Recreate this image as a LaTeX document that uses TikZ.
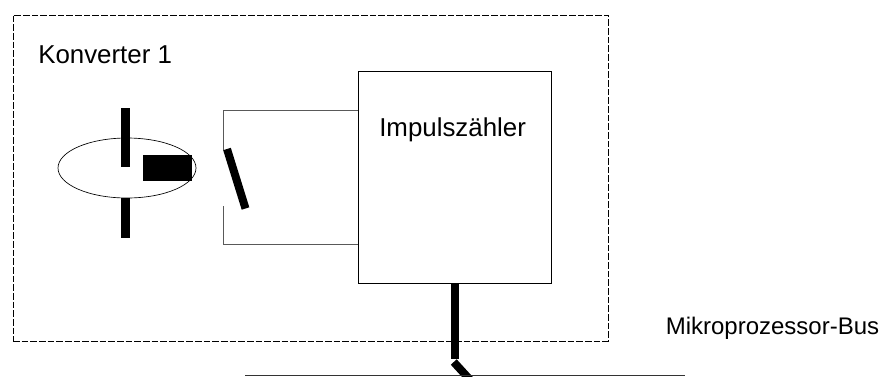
\documentclass[tikz,border=0pt]{standalone}
\usepackage{fontspec}
\setmainfont{Liberation Sans}
\usetikzlibrary{shapes.geometric, calc}
\tikzset{
    bar/.style={line width=6.75pt},
    wire/.style={draw=black!65, line width=0.6pt},
    lbl/.style={anchor=base west, font=\fontsize{19.4}{22}\selectfont, inner sep=0pt}
}
\begin{document}
\begin{tikzpicture}[x=0.75pt, y=-0.75pt]
    \useasboundingbox (0,0) rectangle (888,376);
    \fill [white] (0,0) rectangle (888,376);

    % Converter frame
    \node [draw, dash pattern=on 5pt off 1.5pt, line width=0.6pt, minimum width=446.25pt, minimum height=244.5pt, inner sep=0pt, anchor=north west] (frame) at (12.5,14.5) {};
    \node [lbl] (title) at (38,63.5) {Konverter 1};

    % Counter
    \node [draw, fill=white, line width=1.1pt, minimum width=144.75pt, minimum height=159pt, inner sep=0pt, anchor=north west] (box) at (358,71) {};
    \node [lbl] (count) at (379,136.5) {Impulszähler};

    % Relay coil
    \node [draw, ellipse, line width=0.5pt, minimum width=103.5pt, minimum height=45pt, inner sep=0pt] (coil) at (127,168) {};
    \draw [bar] (125.5,108) coordinate (up_a) -- (125.5,167) coordinate (up_b);
    \draw [bar] (125.5,198) coordinate (lo_a) -- (125.5,238) coordinate (lo_b);
    \node [fill=black, minimum width=36.75pt, minimum height=19.5pt, inner sep=0pt, anchor=north west] (core) at (143,155) {};

    % Switch
    \coordinate (sw_a) at (223.5,150);
    \coordinate (sw_b) at (223.5,206);
    \draw [wire] (sw_a) -- (223.5,110) -- (box.west |- 0,110);
    \draw [wire] (sw_b) -- (223.5,244) -- (box.west |- 0,244);
    \draw [line width=6pt] (227,149) coordinate (arm_a) -- (245.5,208.5) coordinate (arm_b);

    % Bus
    \coordinate (stem) at (box.south |- 0,359);
    \draw [line width=6pt] (box.south) -- (stem);
    \draw [line width=6pt] ($(stem)+(-1.5,3)$) -- (472,382);
    \coordinate (bus_l) at (245,375);
    \coordinate (bus_r) at (685,375);
    \draw [line width=0.75pt, black!80] (bus_l) -- (bus_r);
    \node [lbl, font=\fontsize{18}{20}\selectfont] (busname) at (665.5,334) {Mikroprozessor-Bus};
\end{tikzpicture}
\end{document}
